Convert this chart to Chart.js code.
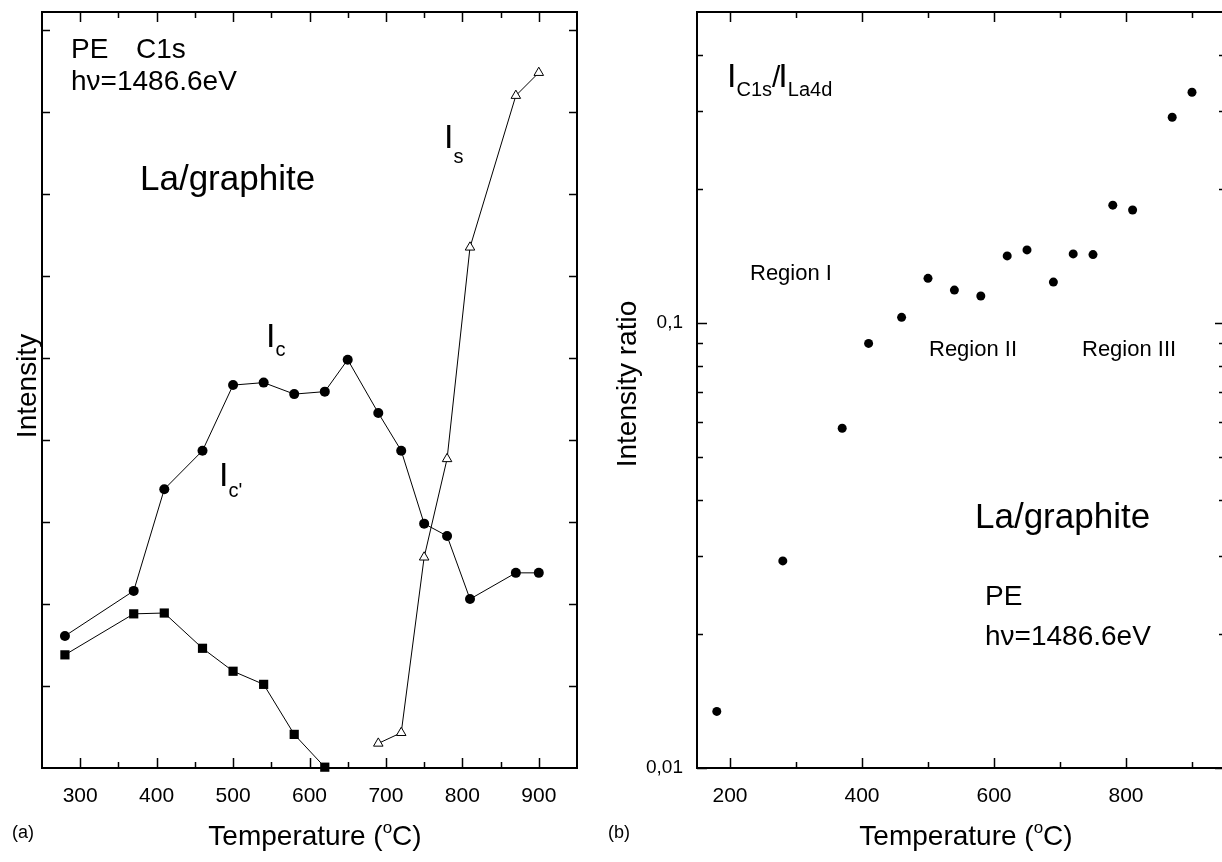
<!DOCTYPE html>
<html>
<head>
<meta charset="utf-8">
<script src="https://cdn.jsdelivr.net/npm/chart.js@4/dist/chart.umd.min.js"></script>
<style>
  html, body { margin: 0; padding: 0; background: #fff; overflow: hidden; }
  #wrap { position: relative; width: 1222px; height: 862px; overflow: hidden; }
  canvas { position: absolute; top: 0; }
</style>
</head>
<body>
<div id="wrap">
  <canvas id="chartA" width="600" height="862" style="left:0"></canvas>
  <canvas id="chartB" width="630" height="862" style="left:600px"></canvas>
</div>
<script>
// panel (a): C1s intensities vs temperature
var tempsIc = [280, 370, 410, 460, 500, 540, 580, 620, 650, 690, 720, 750, 780, 810, 870, 900];
var valuesIc = [1.61, 2.16, 3.40, 3.87, 4.67, 4.70, 4.56, 4.59, 4.98, 4.33, 3.87, 2.98, 2.83, 2.06, 2.38, 2.38];
var tempsIcp = [280, 370, 410, 460, 500, 540, 580, 620];
var valuesIcp = [1.38, 1.88, 1.89, 1.46, 1.18, 1.02, 0.41, 0.01];
var tempsIs = [690, 720, 750, 780, 810, 870, 900];
var valuesIs = [0.30, 0.43, 2.57, 3.77, 6.35, 8.20, 8.48];

// panel (b): intensity ratio I_C1s / I_La4d
var tempsRatio = [180, 280, 370, 410, 460, 500, 540, 580, 620, 650, 690, 720, 750, 780, 810, 870, 900];
var valuesRatio = [0.0134, 0.0292, 0.058, 0.090, 0.103, 0.126, 0.1186, 0.115, 0.1415, 0.146, 0.1236, 0.143, 0.1425, 0.184, 0.1795, 0.290, 0.330];

// tick marks
var aXMajor = [300, 400, 500, 600, 700, 800, 900];
var aXMinor = [350, 450, 550, 650, 750, 850];
var aYMajor = [1, 2, 3, 4, 5, 6, 7, 8, 9];
var bXMajor = [200, 400, 600, 800];
var bXMinor = [300, 500, 700, 900];
var bYMajor = [0.01, 0.1];
var bYMinor = [0.02, 0.03, 0.04, 0.05, 0.06, 0.07, 0.08, 0.09, 0.2, 0.3, 0.4];
var bYLabels = { 0.01: "0,01", 0.1: "0,1" };

var FONT = "'Liberation Sans', Arial, sans-serif";

function toPoints(xs, ys) {
  return xs.map(function (x, i) { return { x: x, y: ys[i] }; });
}

// frame around the plot and inward ticks on all four sides
var frameTicks = {
  id: "frameTicks",
  afterDatasetsDraw: function (chart, args, opts) {
    var ctx = chart.ctx;
    var a = chart.chartArea;
    var xs = chart.scales.x;
    var ys = chart.scales.y;
    ctx.save();
    ctx.strokeStyle = "#000";
    ctx.lineWidth = 1.5;
    ctx.beginPath();
    function xt(vals, len) {
      vals.forEach(function (v) {
        var p = Math.round(xs.getPixelForValue(v)) + 0.5;
        ctx.moveTo(p, a.bottom); ctx.lineTo(p, a.bottom - len);
        ctx.moveTo(p, a.top); ctx.lineTo(p, a.top + len);
      });
    }
    function yt(vals, len) {
      vals.forEach(function (v) {
        var p = Math.round(ys.getPixelForValue(v)) + 0.5;
        ctx.moveTo(a.left, p); ctx.lineTo(a.left + len, p);
        ctx.moveTo(a.right, p); ctx.lineTo(a.right - len, p);
      });
    }
    xt(opts.xMajor || [], 10);
    xt(opts.xMinor || [], 6);
    yt(opts.yMajor || [], opts.yMajorLen || 8);
    yt(opts.yMinor || [], 6);
    ctx.stroke();
    ctx.lineWidth = 2;
    ctx.strokeRect(a.left, a.top, a.right - a.left, a.bottom - a.top);
    ctx.restore();
  }
};

// free text: each item is a list of [text, size, dy, extraGap] pieces drawn one after another
var textLabels = {
  id: "textLabels",
  afterDraw: function (chart, args, opts) {
    var ctx = chart.ctx;
    ctx.save();
    ctx.fillStyle = "#000";
    ctx.textBaseline = "alphabetic";
    (opts.items || []).forEach(function (it) {
      ctx.save();
      ctx.translate(it.x, it.y);
      if (it.rotate) ctx.rotate(it.rotate);
      var total = 0;
      it.parts.forEach(function (p) {
        ctx.font = p[1] + "px " + FONT;
        total += ctx.measureText(p[0]).width + (p[3] || 0);
      });
      var cx = it.center ? -total / 2 : 0;
      it.parts.forEach(function (p) {
        ctx.font = p[1] + "px " + FONT;
        ctx.textAlign = "left";
        ctx.fillText(p[0], cx, p[2] || 0);
        cx += ctx.measureText(p[0]).width + (p[3] || 0);
      });
      ctx.restore();
    });
    ctx.restore();
  }
};

function fixedX(size) {
  return function (scale) { scale.height = size; };
}
function fixedY(size) {
  return function (scale) {
    scale.width = size;
    scale.paddingTop = 0;
    scale.paddingBottom = 0;
  };
}

// ---- panel (a)
new Chart(document.getElementById("chartA"), {
  type: "scatter",
  data: {
    datasets: [
      {
        label: "Ic",
        data: toPoints(tempsIc, valuesIc),
        showLine: true,
        borderColor: "#000",
        borderWidth: 1,
        pointStyle: "circle",
        pointRadius: 5,
        pointBackgroundColor: "#000",
        pointBorderWidth: 0,
        clip: false
      },
      {
        label: "Ic'",
        data: toPoints(tempsIcp, valuesIcp),
        showLine: true,
        borderColor: "#000",
        borderWidth: 1,
        pointStyle: "rect",
        pointRadius: 6.5,
        pointBackgroundColor: "#000",
        pointBorderWidth: 0,
        clip: false
      },
      {
        label: "Is",
        data: toPoints(tempsIs, valuesIs),
        showLine: true,
        borderColor: "#000",
        borderWidth: 1,
        pointStyle: "triangle",
        pointRadius: 5.5,
        pointBackgroundColor: "#fff",
        pointBorderColor: "#000",
        pointBorderWidth: 1,
        clip: false
      }
    ]
  },
  options: {
    responsive: false,
    animation: false,
    devicePixelRatio: 1,
    layout: { padding: { top: 12, right: 23, left: 0, bottom: 0 } },
    plugins: {
      legend: { display: false },
      tooltip: { enabled: false },
      frameTicks: { xMajor: aXMajor, xMinor: aXMinor, yMajor: aYMajor, yMajorLen: 8 },
      textLabels: {
        items: [
          { x: 71, y: 58, parts: [["PE", 28]] },
          { x: 136, y: 58, parts: [["C1s", 28]] },
          { x: 71, y: 90, parts: [["h\u03bd=1486.6eV", 28]] },
          { x: 140, y: 190, parts: [["La/graphite", 35]] },
          { x: 444, y: 148, parts: [["I", 34], ["s", 20, 15]] },
          { x: 266, y: 347, parts: [["I", 34], ["c", 20, 9]] },
          { x: 219, y: 486, parts: [["I", 34], ["c'", 20, 11]] },
          { x: 12, y: 838, parts: [["(a)", 18]] },
          { x: 315, y: 845, center: true, parts: [["Temperature (", 28], ["o", 17, -12], ["C)", 28]] },
          { x: 36, y: 386, center: true, rotate: -Math.PI / 2, parts: [["Intensity", 28]] }
        ]
      }
    },
    scales: {
      x: {
        type: "linear",
        min: 250,
        max: 950,
        afterFit: fixedX(862 - 768),
        afterBuildTicks: function (scale) {
          scale.ticks = aXMajor.map(function (v) { return { value: v }; });
        },
        grid: { display: false, drawTicks: false },
        border: { display: false },
        ticks: { color: "#000", font: { family: FONT, size: 21 }, padding: 16, maxRotation: 0 }
      },
      y: {
        type: "linear",
        min: 0,
        max: 9.22,
        afterFit: fixedY(42),
        grid: { display: false, drawTicks: false },
        border: { display: false },
        ticks: { display: false }
      }
    }
  },
  plugins: [frameTicks, textLabels]
});

// ---- panel (b)
new Chart(document.getElementById("chartB"), {
  type: "scatter",
  data: {
    datasets: [
      {
        label: "ratio",
        data: toPoints(tempsRatio, valuesRatio),
        pointStyle: "circle",
        pointRadius: 4.5,
        pointBackgroundColor: "#000",
        pointBorderWidth: 0
      }
    ]
  },
  options: {
    responsive: false,
    animation: false,
    devicePixelRatio: 1,
    layout: { padding: { top: 12, right: 5, left: 0, bottom: 0 } },
    plugins: {
      legend: { display: false },
      tooltip: { enabled: false },
      frameTicks: { xMajor: bXMajor, xMinor: bXMinor, yMajor: bYMajor, yMinor: bYMinor, yMajorLen: 10 },
      textLabels: {
        items: [
          { x: 127, y: 87, parts: [["I", 34], ["C1s", 20, 9], ["/", 30, 0, -2], ["I", 34], ["La4d", 20, 9]] },
          { x: 150, y: 280, parts: [["Region I", 22]] },
          { x: 329, y: 356, parts: [["Region II", 22]] },
          { x: 482, y: 356, parts: [["Region III", 22]] },
          { x: 375, y: 528, parts: [["La/graphite", 35]] },
          { x: 385, y: 605, parts: [["PE", 28]] },
          { x: 385, y: 645, parts: [["h\u03bd=1486.6eV", 28]] },
          { x: 8, y: 838, parts: [["(b)", 18]] },
          { x: 366, y: 845, center: true, parts: [["Temperature (", 28], ["o", 17, -12], ["C)", 28]] },
          { x: 36, y: 384, center: true, rotate: -Math.PI / 2, parts: [["Intensity ratio", 28]] }
        ]
      }
    },
    scales: {
      x: {
        type: "linear",
        min: 150,
        max: 950,
        afterFit: fixedX(862 - 768),
        afterBuildTicks: function (scale) {
          scale.ticks = bXMajor.map(function (v) { return { value: v }; });
        },
        grid: { display: false, drawTicks: false },
        border: { display: false },
        ticks: { color: "#000", font: { family: FONT, size: 21 }, padding: 16, maxRotation: 0 }
      },
      y: {
        type: "logarithmic",
        min: 0.01,
        max: 0.5,
        afterFit: fixedY(97),
        afterBuildTicks: function (scale) {
          scale.ticks = bYMajor.map(function (v) { return { value: v }; });
        },
        grid: { display: false, drawTicks: false },
        border: { display: false },
        ticks: {
          color: "#000",
          font: { family: FONT, size: 19 },
          padding: 14,
          callback: function (v) { return bYLabels[v] || ""; }
        }
      }
    }
  },
  plugins: [frameTicks, textLabels]
});
</script>
</body>
</html>
